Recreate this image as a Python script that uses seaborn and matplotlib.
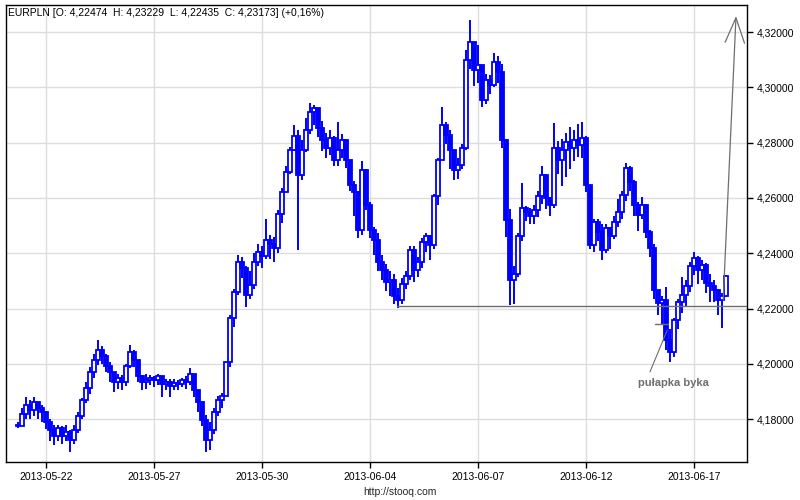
import numpy as np
import pandas as pd
import matplotlib
matplotlib.use("Agg")
import matplotlib.pyplot as plt
import seaborn as sns
from matplotlib.patches import FancyArrowPatch

sns.set_style("whitegrid", {"grid.color": "#dddddd", "axes.edgecolor": "black"})
plt.rcParams['font.family'] = ['Liberation Sans', 'DejaVu Sans']

# EURPLN intraday candles (about 9 per trading day)
first_open = 4.1780
closes = [
    4.1775, 4.1819, 4.1851, 4.1833, 4.1862, 4.1840, 4.1826, 4.1790, 4.1761, 4.1740,
    4.1768, 4.1740, 4.1755, 4.1724, 4.1761, 4.1810, 4.1869, 4.1912, 4.1970, 4.2014,
    4.2050, 4.2028, 4.1992, 4.1970, 4.1934, 4.1949, 4.1934, 4.1992, 4.2043, 4.2014,
    4.1956, 4.1934, 4.1941, 4.1949, 4.1941, 4.1956, 4.1927, 4.1934, 4.1920, 4.1930,
    4.1927, 4.1941, 4.1934, 4.1963, 4.1905, 4.1862, 4.1797, 4.1724, 4.1761, 4.1826,
    4.1869, 4.1883, 4.2007, 4.2166, 4.2260, 4.2368, 4.2346, 4.2249, 4.2285, 4.2368,
    4.2404, 4.2390, 4.2448, 4.2433, 4.2419, 4.2542, 4.2621, 4.2694, 4.2773, 4.2824,
    4.2683, 4.2773, 4.2846, 4.2911, 4.2925, 4.2853, 4.2809, 4.2780, 4.2817, 4.2737,
    4.2773, 4.2809, 4.2737, 4.2647, 4.2621, 4.2484, 4.2701, 4.2574, 4.2484, 4.2448,
    4.2368, 4.2339, 4.2296, 4.2303, 4.2245, 4.2231, 4.2289, 4.2317, 4.2412, 4.2339,
    4.2368, 4.2440, 4.2462, 4.2430, 4.2607, 4.2737, 4.2864, 4.2827, 4.2773, 4.2701,
    4.2719, 4.2780, 4.3099, 4.3164, 4.3063, 4.3081, 4.2954, 4.3026, 4.3008, 4.3091,
    4.3055, 4.2809, 4.2520, 4.2303, 4.2325, 4.2462, 4.2563, 4.2549, 4.2534, 4.2556,
    4.2607, 4.2683, 4.2600, 4.2574, 4.2780, 4.2737, 4.2773, 4.2802, 4.2780, 4.2809,
    4.2791, 4.2817, 4.2647, 4.2430, 4.2513, 4.2477, 4.2412, 4.2491, 4.2462, 4.2513,
    4.2549, 4.2610, 4.2708, 4.2658, 4.2574, 4.2538, 4.2574, 4.2477, 4.2419, 4.2267,
    4.2220, 4.2231, 4.2086, 4.2043, 4.2158, 4.2223, 4.2249, 4.2281, 4.2354, 4.2383,
    4.2339, 4.2357, 4.2292, 4.2281, 4.2267, 4.2231, 4.2247, 4.23173,
]
highs = [
    4.1790, 4.1840, 4.1880, 4.1870, 4.1880, 4.1860, 4.1850, 4.1830, 4.1800, 4.1780,
    4.1780, 4.1775, 4.1780, 4.1760, 4.1780, 4.1825, 4.1875, 4.1935, 4.1990, 4.2035,
    4.2086, 4.2065, 4.2035, 4.2005, 4.1965, 4.1965, 4.1960, 4.2000, 4.2068, 4.2050,
    4.2005, 4.1960, 4.1965, 4.1960, 4.1955, 4.1965, 4.1955, 4.1945, 4.1945, 4.1945,
    4.1940, 4.1950, 4.1955, 4.1985, 4.1965, 4.1905, 4.1865, 4.1815, 4.1790, 4.1840,
    4.1885, 4.1895, 4.2007, 4.2175, 4.2270, 4.2395, 4.2385, 4.2355, 4.2335, 4.2400,
    4.2435, 4.2425, 4.2525, 4.2465, 4.2460, 4.2555, 4.2635, 4.2715, 4.2785, 4.2865,
    4.2845, 4.2810, 4.2890, 4.2943, 4.2935, 4.2920, 4.2880, 4.2835, 4.2845, 4.2825,
    4.2875, 4.2830, 4.2815, 4.2735, 4.2660, 4.2625, 4.2735, 4.2705, 4.2585, 4.2495,
    4.2475, 4.2395, 4.2360, 4.2335, 4.2325, 4.2275, 4.2310, 4.2335, 4.2425, 4.2425,
    4.2385, 4.2455, 4.2475, 4.2465, 4.2615, 4.2745, 4.2929, 4.2875, 4.2845, 4.2775,
    4.2745, 4.2795, 4.3135, 4.3243, 4.3160, 4.3155, 4.3045, 4.3050, 4.3045, 4.3125,
    4.3115, 4.3085, 4.2815, 4.2560, 4.2355, 4.2475, 4.2654, 4.2570, 4.2565, 4.2575,
    4.2625, 4.2715, 4.2685, 4.2605, 4.2870, 4.2805, 4.2815, 4.2835, 4.2855, 4.2845,
    4.2868, 4.2875, 4.2825, 4.2645, 4.2525, 4.2525, 4.2505, 4.2505, 4.2495, 4.2535,
    4.2595, 4.2625, 4.2725, 4.2715, 4.2665, 4.2585, 4.2605, 4.2580, 4.2485, 4.2435,
    4.2265, 4.2245, 4.2278, 4.2125, 4.2165, 4.2235, 4.2314, 4.2305, 4.2370, 4.2404,
    4.2390, 4.2375, 4.2365, 4.2325, 4.2305, 4.2270, 4.2255, 4.23229,
]
lows = [
    4.1768, 4.1775, 4.1800, 4.1800, 4.1810, 4.1800, 4.1790, 4.1765, 4.1720, 4.1705,
    4.1720, 4.1710, 4.1720, 4.1680, 4.1710, 4.1750, 4.1800, 4.1860, 4.1890, 4.1950,
    4.1995, 4.2000, 4.1970, 4.1935, 4.1900, 4.1910, 4.1905, 4.1920, 4.1985, 4.1990,
    4.1935, 4.1905, 4.1910, 4.1925, 4.1915, 4.1925, 4.1880, 4.1905, 4.1880, 4.1905,
    4.1905, 4.1915, 4.1910, 4.1925, 4.1880, 4.1825, 4.1775, 4.1680, 4.1690, 4.1745,
    4.1810, 4.1840, 4.1975, 4.1990, 4.2135, 4.2250, 4.2310, 4.2205, 4.2235, 4.2270,
    4.2355, 4.2345, 4.2380, 4.2380, 4.2370, 4.2400, 4.2510, 4.2625, 4.2685, 4.2770,
    4.2412, 4.2665, 4.2765, 4.2830, 4.2865, 4.2820, 4.2770, 4.2745, 4.2755, 4.2715,
    4.2715, 4.2745, 4.2710, 4.2625, 4.2535, 4.2455, 4.2465, 4.2555, 4.2455, 4.2395,
    4.2335, 4.2305, 4.2265, 4.2245, 4.2215, 4.2202, 4.2215, 4.2270, 4.2305, 4.2295,
    4.2315, 4.2345, 4.2405, 4.2375, 4.2415, 4.2575, 4.2745, 4.2795, 4.2705, 4.2665,
    4.2670, 4.2705, 4.2775, 4.3065, 4.3005, 4.3015, 4.2929, 4.2940, 4.2975, 4.3000,
    4.3015, 4.2780, 4.2460, 4.2213, 4.2215, 4.2315, 4.2445, 4.2515, 4.2505, 4.2505,
    4.2530, 4.2580, 4.2560, 4.2535, 4.2565, 4.2685, 4.2645, 4.2675, 4.2705, 4.2735,
    4.2750, 4.2745, 4.2620, 4.2415, 4.2405, 4.2445, 4.2375, 4.2400, 4.2415, 4.2450,
    4.2495, 4.2525, 4.2590, 4.2625, 4.2535, 4.2480, 4.2525, 4.2455, 4.2385, 4.2235,
    4.2175, 4.2145, 4.2050, 4.2005, 4.2025, 4.2125, 4.2185, 4.2205, 4.2260, 4.2320,
    4.2290, 4.2305, 4.2255, 4.2225, 4.2225, 4.2177, 4.2130, 4.22435,
]

date_ticks = [7, 34, 61, 88, 115, 142, 169]
date_labels = ["2013-05-22", "2013-05-27", "2013-05-30", "2013-06-04",
               "2013-06-07", "2013-06-12", "2013-06-17"]
price_ticks = [4.18, 4.20, 4.22, 4.24, 4.26, 4.28, 4.30, 4.32]

support_level = 4.2208
title_text = "EURPLN [O: 4,22474  H: 4,23229  L: 4,22435  C: 4,23173] (+0,16%)"

df = pd.DataFrame({"close": closes, "high": highs, "low": lows})
df["open"] = df["close"].shift(1).fillna(first_open)
df["high"] = df[["high", "open", "close"]].max(axis=1)
df["low"] = df[["low", "open", "close"]].min(axis=1)
df["up"] = df["close"] >= df["open"]

blue = "#0000ff"
gray = "#6e6e6e"

fig = plt.figure(figsize=(8, 5), dpi=100)
ax = fig.add_axes([6 / 800, 38 / 500, 741 / 800, 457 / 500])

# wicks then bodies (hollow = up, filled = down)
ax.vlines(df.index, df["low"], df["high"], color=blue, linewidth=1.4, zorder=2)
ax.bar(df.index, df["close"] - df["open"], bottom=df["open"], width=0.8,
       color=np.where(df["up"], "white", blue), edgecolor=blue, linewidth=1.3, zorder=3)

# support line and annotations
ax.plot([94.75, 182.25], [support_level, support_level], color=gray, linewidth=1.0, zorder=5)
ax.plot([159.25, 162.5], [4.2144, 4.2144], color=gray, linewidth=1.0, zorder=5)
ax.plot([158.0, 162.3], [4.1971, 4.2122], color=gray, linewidth=0.8, zorder=5)
ax.text(163.75, 4.1930, "pułapka byka", color=gray, fontsize=8, fontweight="bold",
        ha="center", va="center", zorder=6)

arrow = FancyArrowPatch((176.3, 4.2231), (179.5, 4.3258),
                        arrowstyle="->,head_length=1.8,head_width=0.7",
                        mutation_scale=10, color=gray, linewidth=0.9, zorder=6,
                        shrinkA=0, shrinkB=0)
ax.add_patch(arrow)

ax.set_xlim(-3, 182.25)
ax.set_ylim(4.1645, 4.3298)

ax.set_xticks(date_ticks)
ax.set_xticklabels(date_labels)
ax.set_yticks(price_ticks)
ax.set_yticklabels([f"{v:.5f}".replace(".", ",") for v in price_ticks])
ax.yaxis.tick_right()
ax.tick_params(axis="y", right=True, left=False, direction="out", length=4, width=1,
               colors="black", labelsize=7.5, pad=3)
ax.tick_params(axis="x", bottom=True, direction="out", length=4, width=1,
               colors="black", labelsize=7.5, pad=3)
ax.grid(True, color="#dddddd", linewidth=1.0)
ax.set_axisbelow(True)
for sp in ax.spines.values():
    sp.set_color("black")
    sp.set_linewidth(1.0)

ax.text(0.003, 0.9825, title_text, transform=ax.transAxes, fontsize=7.5,
        ha="left", va="center", color="black", zorder=7)
fig.text(0.5, 0.016, "http://stooq.com", fontsize=7.5, ha="center", va="center")

fig.savefig("out.png", dpi=100)
